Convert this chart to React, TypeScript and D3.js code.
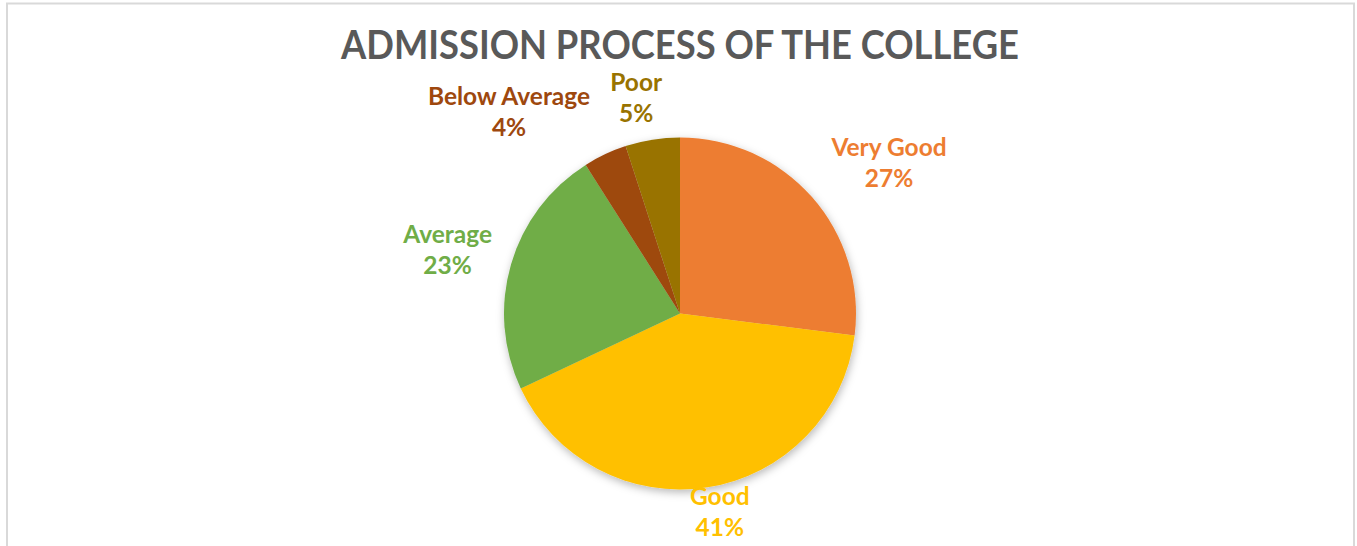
import React from "react";
import * as d3 from "d3";

const categories = ["Very Good", "Good", "Average", "Below Average", "Poor"];
const values = [27, 41, 23, 4, 5];
const colors = ["#ED7D31", "#FFC000", "#70AD47", "#9E480E", "#997300"];
const title = "ADMISSION PROCESS OF THE COLLEGE";

// label layout nudges (px) relative to a point outside the slice mid-angle
const labelNudge: [number, number][] = [
  [47, 1],
  [6, -6],
  [-25, 5],
  [-79, 2],
  [-10, 6],
];

const W = 1357;
const H = 546;
const cx = 680;
const cy = 313.5;
const R = 176;
const FONT = "Lato, 'Open Sans', sans-serif";

export default function App() {
  const data = categories.map((c, i) => ({ cat: c, value: values[i], color: colors[i] }));
  const pie = d3.pie<any>().value((d) => d.value).sort(null);
  const arcs = pie(data);
  const arc = d3.arc<any>().innerRadius(0).outerRadius(R);
  const total = d3.sum(values);

  return (
    <svg
      width={W}
      height={H}
      style={{ position: "absolute", left: 0, top: 0, background: "#fff" }}
    >
      <defs>
        <filter id="shadow" x="-20%" y="-20%" width="140%" height="140%">
          <feDropShadow dx="1" dy="3" stdDeviation="4" floodColor="#000" floodOpacity="0.28" />
        </filter>
      </defs>
      <rect x={7} y={3.5} width={1347} height={600} fill="#fff" stroke="#d9d9d9" strokeWidth={2} />
      <text
        x={cx}
        y={59}
        textAnchor="middle"
        fontFamily={FONT}
        fontWeight="bold"
        fontSize={41}
        fill="#595959"
        textLength={678}
        lengthAdjust="spacingAndGlyphs"
      >
        {title}
      </text>
      <g transform={`translate(${cx},${cy})`}>
        <g filter="url(#shadow)">
          {arcs.map((a, i) => (
            <path key={i} d={arc(a) as string} fill={a.data.color} />
          ))}
        </g>
        {arcs.map((a, i) => {
          const mid = (a.startAngle + a.endAngle) / 2;
          const rl = R + 40;
          const x = rl * Math.sin(mid) + labelNudge[i][0];
          const y = -rl * Math.cos(mid) + labelNudge[i][1];
          const pct = Math.round((a.data.value / total) * 100) + "%";
          return (
            <text
              key={i}
              textAnchor="middle"
              fontFamily={FONT}
              fontWeight="bold"
              fontSize={24.5}
              fill={a.data.color}
            >
              <tspan x={x} y={y - 15.5}>{a.data.cat}</tspan>
              <tspan x={x} y={y + 15.5}>{pct}</tspan>
            </text>
          );
        })}
      </g>
    </svg>
  );
}
